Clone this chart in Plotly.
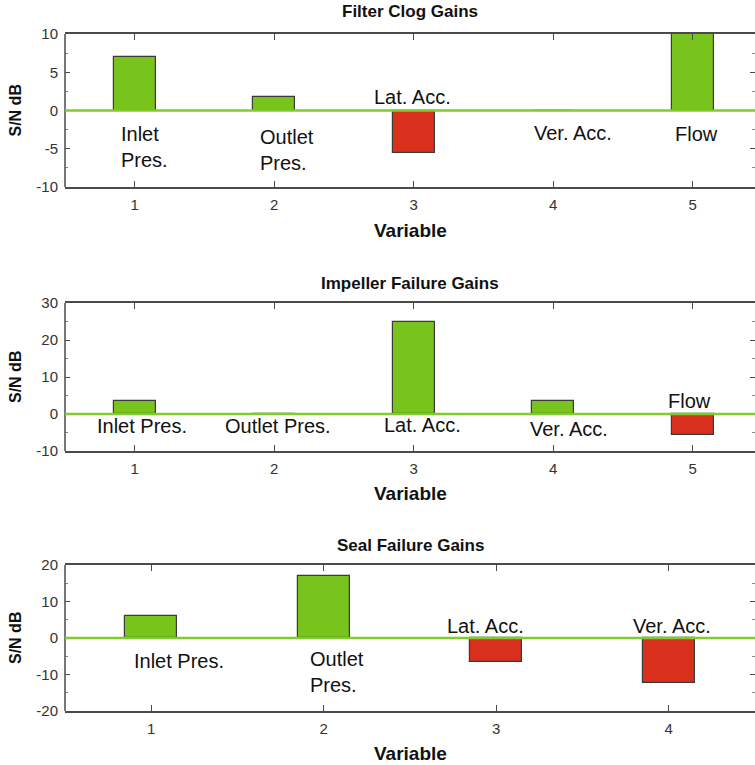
import plotly.graph_objects as go

# ---------------- data ----------------
panel_titles = ["Filter Clog Gains", "Impeller Failure Gains", "Seal Failure Gains"]
variables_5 = [1, 2, 3, 4, 5]
variables_4 = [1, 2, 3, 4]
filter_clog_gains = [7.0, 1.8, -5.6, 0.0, 10.0]
impeller_failure_gains = [3.6, 0.0, 25.0, 3.6, -5.6]
seal_failure_gains = [6.1, 16.9, -6.6, -12.2]

filter_labels = ["Inlet<br>Pres.", "Outlet<br>Pres.", "Lat. Acc.", "Ver. Acc.", "Flow"]
impeller_labels = ["Inlet Pres.", "Outlet Pres.", "Lat. Acc.", "Ver. Acc.", "Flow"]
seal_labels = ["Inlet Pres.", "Outlet<br>Pres.", "Lat. Acc.", "Ver. Acc."]

y_tickvals = [[-10, -5, 0, 5, 10], [-10, 0, 10, 20, 30], [-20, -10, 0, 10, 20]]
y_ticktext = [["-10", "-5", "0", "5", "10"], ["-10", "0", "10", "20", "30"],
              ["-20", "-10", "0", "10", "20"]]
y_ranges = [[-10, 10], [-10, 30], [-20, 20]]
y_minor_dtick = [2.5, 5, 5]
x_ranges = [[0.5, 5.446], [0.5, 5.446], [0.5, 4.5]]
x_tickvals = [variables_5, variables_5, variables_4]

# label placement (data coords) and anchors: (x, y, xanchor)
filter_label_pos = [(0.89, -4.8, "left"), (1.88, -5.2, "left"), (2.99, 1.7, "center"),
                    (4.14, -2.9, "center"), (5.03, -3.1, "center")]
impeller_label_pos = [(1.05, -3.2, "center"), (2.03, -3.2, "center"), (3.06, -2.9, "center"),
                      (4.11, -4.1, "center"), (4.98, 3.6, "center")]
seal_label_pos = [(1.16, -6.4, "center"), (1.91, -9.4, "left"), (2.94, 3.4, "center"),
                  (4.02, 3.4, "center")]

# ---------------- styling ----------------
W, H = 755, 765
GREEN = "#78c31c"
RED = "#d9301e"
ZERO = "#80cc2a"
AXIS = "#4a4a4a"
FONT = "Liberation Sans, Arial, sans-serif"

plot_left = 65
panel_px = [(34, 187), (303, 451), (565, 711)]   # (top, bottom)
title_y_px = [12, 283, 545]
xtitle_y_px = [230, 493, 753]

def py(p):
    return 1 - p / H

fig = go.Figure()

series = [(variables_5, filter_clog_gains, filter_labels, filter_label_pos),
          (variables_5, impeller_failure_gains, impeller_labels, impeller_label_pos),
          (variables_4, seal_failure_gains, seal_labels, seal_label_pos)]

annotations = []
shapes = []
for i, (xs, vals, labels, lpos) in enumerate(series):
    n = i + 1
    xa = "x" if n == 1 else f"x{n}"
    ya = "y" if n == 1 else f"y{n}"
    colors = [GREEN if v >= 0 else RED for v in vals]
    fig.add_trace(go.Bar(
        x=xs, y=vals, width=0.3,
        marker=dict(color=colors, line=dict(color="#3a3a3a", width=1.2)),
        xaxis=xa, yaxis=ya, showlegend=False, hoverinfo="x+y",
    ))
    top, bot = panel_px[i]
    xkey = "xaxis" if n == 1 else f"xaxis{n}"
    ykey = "yaxis" if n == 1 else f"yaxis{n}"
    fig.update_layout({
        xkey: dict(
            domain=[plot_left / W, 1.0], anchor=ya, range=x_ranges[i],
            tickvals=x_tickvals[i], ticks="inside", ticklen=6, tickcolor=AXIS, tickwidth=1.2,
            showline=True, linecolor=AXIS, linewidth=1.5, mirror="ticks",
            showgrid=False, zeroline=False, automargin=False,
            tickfont=dict(family=FONT, size=15, color="#333333"),
            ticklabelstandoff=3,
        ),
        ykey: dict(
            domain=[py(bot), py(top)], anchor=xa, range=y_ranges[i],
            tickvals=y_tickvals[i], ticktext=y_ticktext[i],
            ticks="inside", ticklen=5, tickcolor=AXIS, tickwidth=1.2,
            minor=dict(ticks="inside", ticklen=3, dtick=y_minor_dtick[i], tickcolor="#888888"),
            showline=False, mirror="ticks",
            showgrid=False, zeroline=False, automargin=False,
            tickfont=dict(family=FONT, size=15, color="#333333"),
            ticklabelstandoff=6,
        ),
    })
    # left axis line (right side shows ticks only, as the frame runs past the edge)
    shapes.append(dict(type="line", xref=f"{xa} domain", yref=f"{ya} domain",
                       x0=0, x1=0, y0=0, y1=1, line=dict(color=AXIS, width=1.5), layer="above"))
    shapes.append(dict(type="line", xref=f"{xa} domain", yref=ya, x0=0, x1=1, y0=0, y1=0,
                       line=dict(color=ZERO, width=2.5), layer="above"))
    annotations.append(dict(text=f"<b>{panel_titles[i]}</b>", xref="paper", yref="paper",
                            x=(plot_left + W) / 2 / W, y=py(title_y_px[i]), xanchor="center",
                            yanchor="middle", showarrow=False,
                            font=dict(family=FONT, size=17, color="#111111")))
    annotations.append(dict(text="<b>Variable</b>", xref="paper", yref="paper",
                            x=(plot_left + W) / 2 / W, y=py(xtitle_y_px[i]), xanchor="center",
                            yanchor="middle", showarrow=False,
                            font=dict(family=FONT, size=19, color="#111111")))
    annotations.append(dict(text="<b>S/N dB</b>", xref="paper", yref="paper",
                            x=15 / W, y=py((top + bot) / 2), xanchor="center",
                            yanchor="middle", showarrow=False, textangle=-90,
                            font=dict(family=FONT, size=16, color="#111111")))
    for lab, (lx, ly, anc) in zip(labels, lpos):
        annotations.append(dict(text=lab, xref=xa, yref=ya, x=lx, y=ly, xanchor=anc,
                                yanchor="middle", align="left", showarrow=False,
                                font=dict(family=FONT, size=20, color="#111111")))

fig.update_layout(
    width=W, height=H, margin=dict(l=0, r=0, t=0, b=0, pad=0),
    paper_bgcolor="white", plot_bgcolor="white",
    annotations=annotations, shapes=shapes, bargap=0,
)

fig.write_html(
    "out.html",
    config={"displayModeBar": False},
    post_script=(
        "document.documentElement.style.margin='0';"
        "document.body.style.margin='0';"
        "document.documentElement.style.overflow='hidden';"
        "document.body.style.overflow='hidden';"
    ),
)
